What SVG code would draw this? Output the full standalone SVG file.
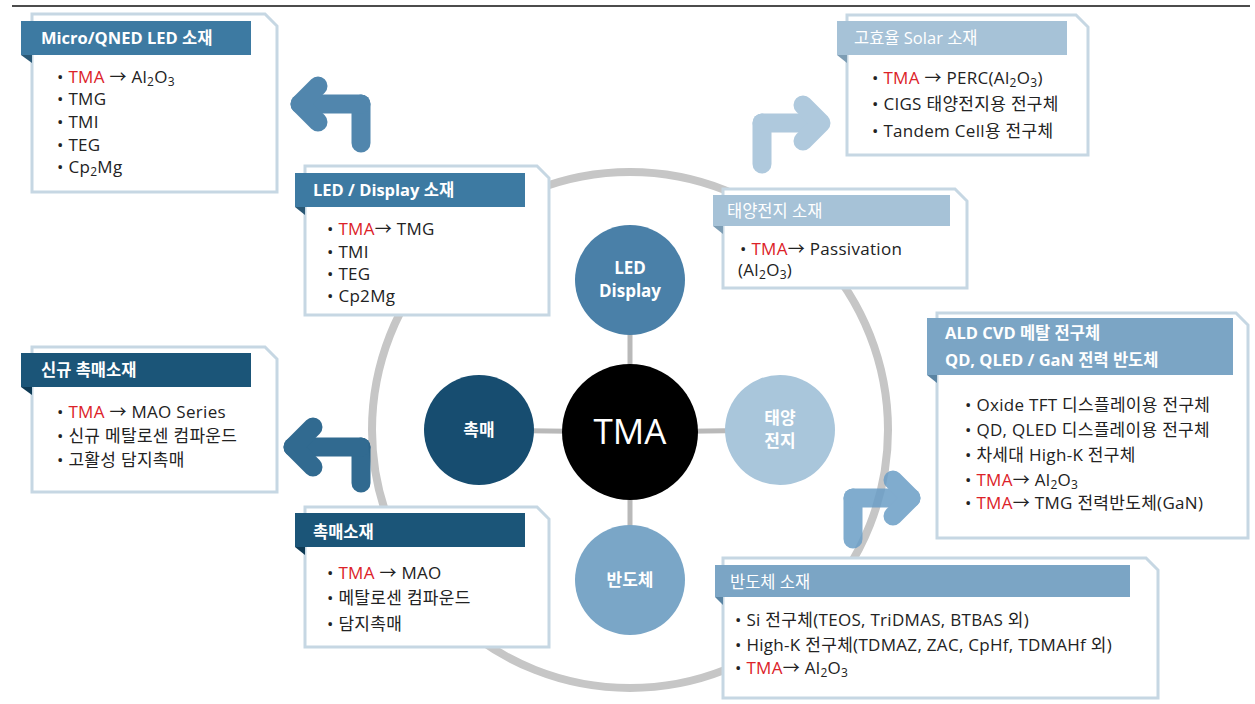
<svg xmlns="http://www.w3.org/2000/svg" width="1255" height="704" viewBox="0 0 1255 704">
<style>
text{font-family:"Open Sans","Noto Sans CJK KR",sans-serif}
.box{fill:#fff;stroke:#c6d7e3;stroke-width:3}
.ht{font-size:16.5px;font-weight:bold;fill:#fff}
.hn{font-size:16.5px;fill:#fff}
.it{font-size:17px;fill:#222;letter-spacing:0.3px}
.r{fill:#dc2228}
.sub{font-size:12px}
.ct{font-size:17px;font-weight:bold;fill:#fff;text-anchor:middle}
.h1{fill:#3d7aa2}.f1{fill:#2a5875}
.h2{fill:#a6c2d7}.f2{fill:#7d9db4}
.h3{fill:#7ba5c5}.f3{fill:#5a84a3}
.h4{fill:#1b5578}.f4{fill:#0e3a55}
.arw path{fill:none;stroke-width:19;stroke-linecap:round;stroke-linejoin:round}
.spoke{stroke:#b9b9b9;stroke-width:5}
</style>
<rect width="1255" height="704" fill="#fff"/>
<line x1="12" y1="6" x2="1250" y2="6" stroke="#111" stroke-width="1.5"/>
<g id="ring"><circle cx="630" cy="430" r="258" fill="none" stroke="#c6c6c6" stroke-width="8"/></g>
<g id="connectors">
<line class="spoke" x1="630" y1="432" x2="630" y2="280"/>
<line class="spoke" x1="630" y1="432" x2="479" y2="430"/>
<line class="spoke" x1="630" y1="432" x2="780" y2="430"/>
<line class="spoke" x1="630" y1="432" x2="630" y2="580"/>
</g>
<g id="n-led"><circle cx="630" cy="280" r="55" fill="#4a80a8"/><text class="ct" x="630" y="274">LED</text><text class="ct" x="630" y="297">Display</text></g>
<g id="n-cat"><circle cx="479" cy="430" r="55" fill="#174d70"/><text class="ct" x="479" y="436">촉매</text></g>
<g id="n-solar"><circle cx="780" cy="430" r="55" fill="#a9c6db"/><text class="ct" x="780" y="424">태양</text><text class="ct" x="780" y="447">전지</text></g>
<g id="n-semi"><circle cx="630" cy="580" r="55" fill="#7aa6c7"/><text class="ct" x="630" y="586">반도체</text></g>
<g id="n-tma"><circle cx="630" cy="432" r="68" fill="#000"/><text x="630" y="444" fill="#fff" font-size="35" text-anchor="middle">TMA</text></g>

<g id="b-micro">
<path class="box" d="M32,14 H265 L277,26 V192 H32 Z"/>
<rect class="h1" x="21" y="21" width="230" height="34"/><path class="f1" d="M21,55 H32 V63 Z"/>
<text class="ht" x="41" y="44">Micro/QNED LED 소재</text>
<text class="it" x="57" y="83">• <tspan class="r">TMA</tspan> → Al<tspan class="sub" dy="3">2</tspan><tspan dy="-3">O</tspan><tspan class="sub" dy="3">3</tspan></text>
<text class="it" x="57" y="105">• TMG</text>
<text class="it" x="57" y="128">• TMI</text>
<text class="it" x="57" y="151">• TEG</text>
<text class="it" x="57" y="173">• Cp<tspan class="sub" dy="3">2</tspan><tspan dy="-3">Mg</tspan></text>
</g>

<g id="b-led">
<path class="box" d="M305,166 H537 L549,178 V315 H305 Z"/>
<rect class="h1" x="295" y="173" width="230" height="34"/><path class="f1" d="M295,207 H305 V215 Z"/>
<text class="ht" x="313" y="196">LED / Display 소재</text>
<text class="it" x="327" y="235">• <tspan class="r">TMA</tspan>→ TMG</text>
<text class="it" x="327" y="258">• TMI</text>
<text class="it" x="327" y="280">• TEG</text>
<text class="it" x="327" y="302">• Cp2Mg</text>
</g>

<g id="b-hsolar">
<path class="box" d="M847,15 H1076 L1088,27 V155 H847 Z"/>
<rect class="h2" x="837" y="21" width="230" height="34"/><path class="f2" d="M837,55 H847 V63 Z"/>
<text class="hn" x="854" y="44">고효율 Solar 소재</text>
<text class="it" x="872" y="84">• <tspan class="r">TMA</tspan> → PERC(Al<tspan class="sub" dy="3">2</tspan><tspan dy="-3">O</tspan><tspan class="sub" dy="3">3</tspan><tspan dy="-3">)</tspan></text>
<text class="it" x="872" y="110">• CIGS 태양전지용 전구체</text>
<text class="it" x="872" y="137">• Tandem Cell용 전구체</text>
</g>

<g id="b-solar">
<path class="box" d="M723,189 H955 L967,201 V288 H723 Z"/>
<rect class="h2" x="713" y="195" width="237" height="31"/><path class="f2" d="M713,226 H723 V234 Z"/>
<text class="hn" x="727" y="217">태양전지 소재</text>
<text class="it" x="740" y="255">• <tspan class="r">TMA</tspan>→ Passivation</text>
<text class="it" x="738" y="276">(Al<tspan class="sub" dy="3">2</tspan><tspan dy="-3">O</tspan><tspan class="sub" dy="3">3</tspan><tspan dy="-3">)</tspan></text>
</g>

<g id="b-ald">
<path class="box" d="M937,313 H1236 L1248,325 V538 H937 Z"/>
<rect class="h3" x="927" y="318" width="306" height="57"/><path class="f3" d="M927,375 H937 V383 Z"/>
<text class="ht" x="945" y="339">ALD CVD 메탈 전구체</text>
<text class="ht" x="945" y="366">QD, QLED / GaN 전력 반도체</text>
<text class="it" x="965" y="411">• Oxide TFT 디스플레이용 전구체</text>
<text class="it" x="965" y="436">• QD, QLED 디스플레이용 전구체</text>
<text class="it" x="965" y="461">• 차세대 High-K 전구체</text>
<text class="it" x="965" y="486">• <tspan class="r">TMA</tspan>→ Al<tspan class="sub" dy="3">2</tspan><tspan dy="-3">O</tspan><tspan class="sub" dy="3">3</tspan></text>
<text class="it" x="965" y="509">• <tspan class="r">TMA</tspan>→ TMG 전력반도체(GaN)</text>
</g>

<g id="b-newcat">
<path class="box" d="M32,347 H265 L277,359 V492 H32 Z"/>
<rect class="h4" x="21" y="353" width="230" height="34"/><path class="f4" d="M21,387 H32 V395 Z"/>
<text class="ht" x="41" y="376">신규 촉매소재</text>
<text class="it" x="57" y="418">• <tspan class="r">TMA</tspan> → MAO Series</text>
<text class="it" x="57" y="442">• 신규 메탈로센 컴파운드</text>
<text class="it" x="57" y="466">• 고활성 담지촉매</text>
</g>

<g id="b-cat">
<path class="box" d="M305,507 H537 L549,519 V647 H305 Z"/>
<rect class="h4" x="295" y="513" width="230" height="34"/><path class="f4" d="M295,547 H305 V555 Z"/>
<text class="ht" x="313" y="538">촉매소재</text>
<text class="it" x="327" y="579">• <tspan class="r">TMA</tspan> → MAO</text>
<text class="it" x="327" y="604">• 메탈로센 컴파운드</text>
<text class="it" x="327" y="630">• 담지촉매</text>
</g>

<g id="b-semi">
<path class="box" d="M723,558 H1146 L1158,570 V698 H723 Z"/>
<rect class="h3" x="715" y="565" width="415" height="32"/><path class="f3" d="M715,597 H723 V605 Z"/>
<text class="hn" x="730" y="588">반도체 소재</text>
<text class="it" x="735" y="626">• Si 전구체(TEOS, TriDMAS, BTBAS 외)</text>
<text class="it" x="735" y="651">• High-K 전구체(TDMAZ, ZAC, CpHf, TDMAHf 외)</text>
<text class="it" x="735" y="674">• <tspan class="r">TMA</tspan>→ Al<tspan class="sub" dy="3">2</tspan><tspan dy="-3">O</tspan><tspan class="sub" dy="3">3</tspan></text>
</g>

<g id="arrows" class="arw">
<g stroke="#3f7aa5" opacity="0.9"><path d="M361,143 V104"/><path d="M361,104 H300"/><path d="M318,86 L300,104 L318,122"/></g>
<g stroke="#a7c4da" opacity="0.9"><path d="M762,164 V123"/><path d="M762,123 H820"/><path d="M803,105 L821,123 L803,141"/></g>
<g stroke="#6a9ec6" opacity="0.85"><path d="M853,539 V498"/><path d="M853,498 H911"/><path d="M893,480 L911,498 L893,516"/></g>
<g stroke="#1b5a84" opacity="0.9"><path d="M361,483 V447"/><path d="M361,447 H293"/><path d="M313,427 L293,447 L313,467"/></g>
</g>
</svg>
